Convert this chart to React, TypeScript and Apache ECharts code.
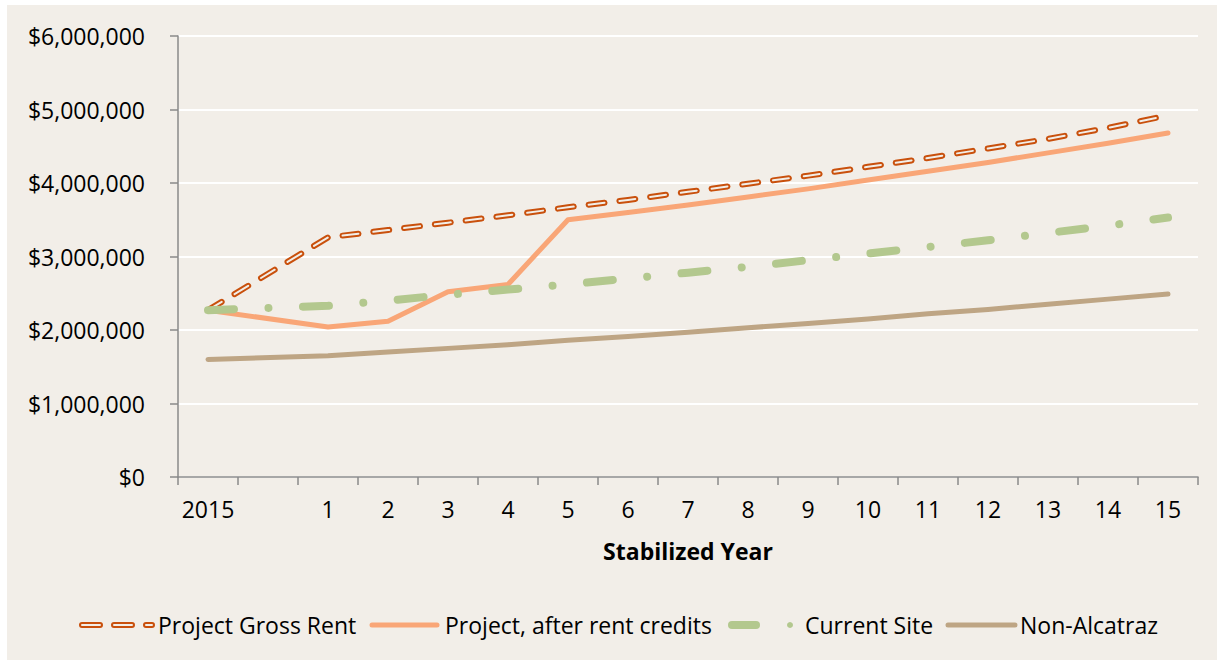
import React, { useEffect, useRef } from "react";
import * as echarts from "echarts";

const categories = ["2015", "", "1", "2", "3", "4", "5", "6", "7", "8", "9", "10", "11", "12", "13", "14", "15"];

const grossRent = [2270000, null, 3260000, 3360000, 3460000, 3560000, 3670000, 3770000, 3880000, 3990000, 4100000, 4220000, 4340000, 4470000, 4600000, 4750000, 4920000];
const afterCredits = [2270000, null, 2040000, 2120000, 2520000, 2620000, 3500000, 3600000, 3700000, 3810000, 3920000, 4040000, 4160000, 4280000, 4410000, 4540000, 4680000];
const currentSite = [2270000, null, 2330000, 2400000, 2480000, 2550000, 2620000, 2700000, 2780000, 2860000, 2950000, 3040000, 3130000, 3220000, 3320000, 3420000, 3530000];
const nonAlcatraz = [1600000, null, 1650000, 1700000, 1750000, 1800000, 1860000, 1910000, 1970000, 2030000, 2090000, 2150000, 2220000, 2280000, 2350000, 2420000, 2490000];

const seriesNames = ["Project Gross Rent", "Project, after rent credits", "Current Site", "Non-Alcatraz"];

const BG = "#F2EEE8";
const C_GROSS = "#C9500C";
const C_AFTER = "#F9A677";
const C_SITE = "#B3C88E";
const C_NON = "#BEA584";
const FONT = "'Open Sans', 'Noto Sans', sans-serif";
const AXIS = "#8A8A8A";

export default function App() {
  const ref = useRef<HTMLDivElement>(null);
  useEffect(() => {
    if (!ref.current) return;
    const chart = echarts.init(ref.current, undefined, { renderer: "svg" });
    const legendY = 620;
    const textStyle = { fontFamily: FONT, fontSize: 23, fill: "#000", textVerticalAlign: "middle" };
    chart.setOption({
      animation: false,
      backgroundColor: BG,
      grid: { left: 171, right: 19, top: 31, bottom: 183, containLabel: false },
      xAxis: {
        type: "category",
        data: categories,
        boundaryGap: true,
        axisLine: { lineStyle: { color: AXIS, width: 1.5 } },
        axisTick: { show: true, interval: 0, length: 8, lineStyle: { color: AXIS, width: 1.5 } },
        axisLabel: { interval: 0, fontFamily: FONT, fontSize: 23, color: "#000", margin: 20 },
        name: "Stabilized Year",
        nameLocation: "middle",
        nameGap: 62,
        nameTextStyle: { fontFamily: FONT, fontSize: 23, fontWeight: "bold", color: "#000" },
        splitLine: { show: false },
      },
      yAxis: {
        type: "value",
        min: 0,
        max: 6000000,
        interval: 1000000,
        axisLine: { show: true, lineStyle: { color: AXIS, width: 1.5 } },
        axisTick: { show: true, length: 8, lineStyle: { color: AXIS, width: 1.5 } },
        axisLabel: {
          fontFamily: FONT,
          fontSize: 23,
          color: "#000",
          margin: 33,
          formatter: (v: number) => "$" + v.toLocaleString("en-US"),
        },
        splitLine: { show: true, lineStyle: { color: "#FFFFFF", width: 2 } },
      },
      series: [
        {
          name: seriesNames[0],
          type: "line",
          data: grossRent,
          connectNulls: true,
          symbol: "none",
          showSymbol: false,
          lineStyle: { color: C_GROSS, width: 6, type: [16, 15], cap: "round", join: "round" },
        },
        {
          name: seriesNames[0] + " inner",
          type: "line",
          data: grossRent,
          connectNulls: true,
          symbol: "none",
          showSymbol: false,
          lineStyle: { color: BG, width: 2, type: [16, 15], cap: "round", join: "round" },
        },
        {
          name: seriesNames[1],
          type: "line",
          data: afterCredits,
          connectNulls: true,
          symbol: "none",
          showSymbol: false,
          lineStyle: { color: C_AFTER, width: 5, cap: "round", join: "round" },
        },
        {
          name: seriesNames[2],
          type: "line",
          data: currentSite,
          connectNulls: true,
          symbol: "none",
          showSymbol: false,
          lineStyle: { color: C_SITE, width: 8, type: [26, 34.5, 0.01, 34.5], cap: "round", join: "round" },
        },
        {
          name: seriesNames[3],
          type: "line",
          data: nonAlcatraz,
          connectNulls: true,
          symbol: "none",
          showSymbol: false,
          lineStyle: { color: C_NON, width: 5, cap: "round", join: "round" },
        },
      ],
      graphic: [
        // Legend item 1
        { type: "line", shape: { x1: 75, y1: legendY, x2: 145, y2: legendY }, style: { stroke: C_GROSS, lineWidth: 6, lineDash: [18, 14], lineCap: "round" } },
        { type: "line", shape: { x1: 75, y1: legendY, x2: 145, y2: legendY }, style: { stroke: BG, lineWidth: 2, lineDash: [18, 14], lineCap: "round" } },
        { type: "text", x: 151, y: legendY, style: { ...textStyle, text: seriesNames[0] } },
        // Legend item 2
        { type: "line", shape: { x1: 365, y1: legendY, x2: 430, y2: legendY }, style: { stroke: C_AFTER, lineWidth: 5, lineCap: "round" } },
        { type: "text", x: 438, y: legendY, style: { ...textStyle, text: seriesNames[1] } },
        // Legend item 3
        { type: "line", shape: { x1: 725, y1: legendY, x2: 749, y2: legendY }, style: { stroke: C_SITE, lineWidth: 8, lineCap: "round" } },
        { type: "circle", shape: { cx: 783, cy: legendY, r: 3 }, style: { fill: C_SITE } },
        { type: "text", x: 798, y: legendY, style: { ...textStyle, text: seriesNames[2] } },
        // Legend item 4
        { type: "line", shape: { x1: 941, y1: legendY, x2: 1008, y2: legendY }, style: { stroke: C_NON, lineWidth: 5, lineCap: "round" } },
        { type: "text", x: 1013, y: legendY, style: { ...textStyle, text: seriesNames[3] } },
      ],
    });
    return () => chart.dispose();
  }, []);
  return (
    <div
      ref={ref}
      style={{ position: "absolute", left: 7, top: 5, width: 1210, height: 655, background: BG }}
    />
  );
}
